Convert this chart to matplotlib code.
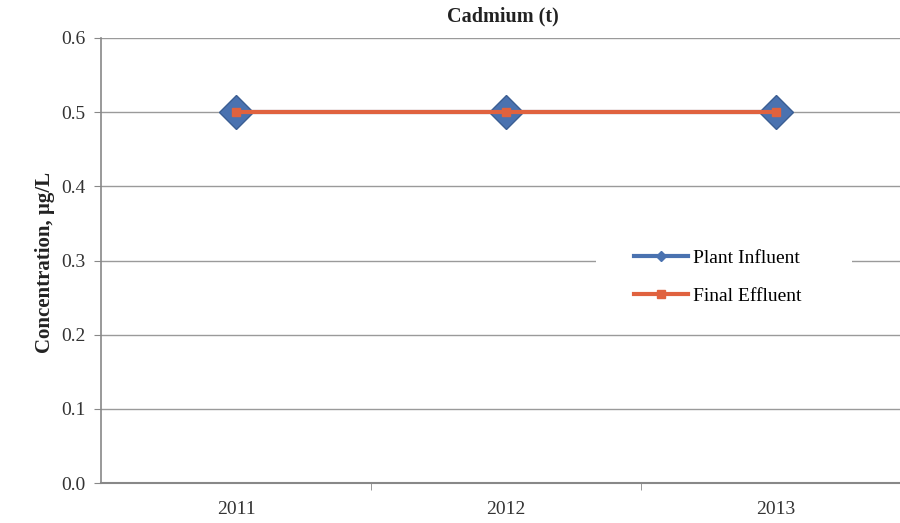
import matplotlib
matplotlib.use("Agg")
import matplotlib.pyplot as plt
from matplotlib.lines import Line2D
from matplotlib.patches import Rectangle

years = ["2011", "2012", "2013"]
plant_influent = [0.5, 0.5, 0.5]
final_effluent = [0.5, 0.5, 0.5]
y_ticks = [0.0, 0.1, 0.2, 0.3, 0.4, 0.5, 0.6]

blue = "#4A72B0"
orange = "#E0623F"

plt.rcParams["font.family"] = ["Liberation Serif", "DejaVu Serif"]

fig = plt.figure(figsize=(9, 5.23), dpi=100)
W, H = 900, 523
left, right, top, bottom = 101, 911, 38, 483
ax = fig.add_axes([left / W, (H - bottom) / H, (right - left) / W, (bottom - top) / H])

x = list(range(len(years)))
ax.plot(x, plant_influent, color=blue, lw=3, marker="D", markersize=17,
        markerfacecolor=blue, markeredgecolor="#3B5E93", zorder=3)
ax.plot(x, final_effluent, color=orange, lw=3, marker="s", markersize=6,
        markerfacecolor=orange, markeredgecolor=orange, zorder=4)

ax.set_xlim(-0.5, 2.5)
ax.set_ylim(0, 0.6)
ax.set_yticks(y_ticks)
ax.set_yticklabels([f"{v:.1f}" for v in y_ticks], fontsize=14, color="#333333")
ax.set_xticks(x)
ax.set_xticklabels(years, fontsize=14, color="#333333")
ax.set_xticks([0.5, 1.5], minor=True)
ax.tick_params(axis="x", which="major", length=0, pad=13)
ax.tick_params(axis="x", which="minor", length=5, color="#888888", direction="out")
ax.tick_params(axis="y", length=5, color="#888888", direction="out", pad=6)

ax.grid(axis="y", color="#9A9A9A", lw=1)
ax.set_axisbelow(True)
for s in ["top", "right"]:
    ax.spines[s].set_visible(False)
ax.spines["left"].set_color("#888888")
ax.spines["bottom"].set_color("#888888")
ax.spines["left"].set_linewidth(1.2)
ax.spines["bottom"].set_linewidth(1.5)

fig.text(503 / W, 1 - 16 / H, "Cadmium (t)", ha="center", va="center",
         fontsize=14.5, fontweight="bold", color="#222222")
fig.text(45 / W, 1 - 262 / H, "Concentration, µg/L", ha="center", va="center",
         rotation=90, fontsize=15, fontweight="bold", color="#222222")

# white legend area interrupting the gridline behind the legend
ax.add_patch(Rectangle((596 / W, 1 - 265 / H), (852 - 596) / W, 9 / H,
                       transform=fig.transFigure, facecolor="white",
                       edgecolor="none", zorder=1.5, clip_on=False))

handles = [
    Line2D([], [], color=blue, lw=3, marker="D", markersize=5, markerfacecolor=blue),
    Line2D([], [], color=orange, lw=3, marker="s", markersize=6, markerfacecolor=orange),
]
leg = ax.legend(handles, ["Plant Influent", "Final Effluent"], loc="center left",
                bbox_to_anchor=(628 / W, 1 - 277 / H), bbox_transform=fig.transFigure,
                frameon=False, fontsize=14, handlelength=2.8, handletextpad=0.25,
                labelspacing=1.05, borderpad=0.3, borderaxespad=0)

fig.savefig("out.png", dpi=100)
